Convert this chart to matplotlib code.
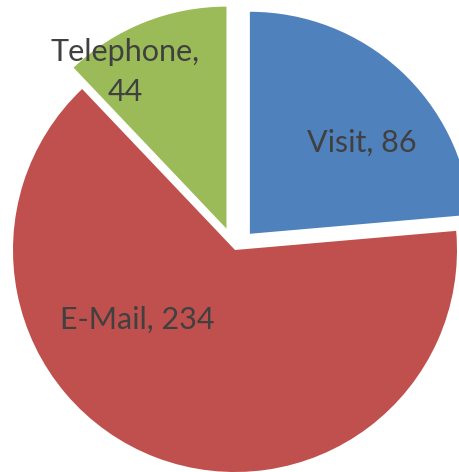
import numpy as np
import matplotlib.pyplot as plt

# Contact channel counts
channels = ['Visit', 'E-Mail', 'Telephone']
counts = [86, 234, 44]
colors = ['#4F81BD', '#C0504D', '#9BBB59']

W, H = 459, 472
R = 222
cx, cy = 235, H - 250

# wedge offsets (pie() takes these in data units, here pixels)
explode = [22, 0, 23]

# label placement: (distance as fraction of radius, angle in degrees) from each wedge apex
label_pos = [(0.65, 39), (0.54, 215.5), (0.84, 123)]
label_text = ['Visit, 86', 'E-Mail, 234', 'Telephone,\n44']

fig = plt.figure(figsize=(W / 100, H / 100), dpi=100)
ax = fig.add_axes([0, 0, 1, 1])

wedges, _ = ax.pie(counts, colors=colors, explode=explode, startangle=90,
                   counterclock=False, radius=R, center=(cx, cy),
                   wedgeprops=dict(linewidth=0))

for w, (frac, ang), txt in zip(wedges, label_pos, label_text):
    ox, oy = w.center
    a = np.deg2rad(ang)
    ax.text(ox + frac * R * np.cos(a), oy + frac * R * np.sin(a), txt,
            ha='center', va='center', fontsize=22, color='#404040',
            family='Lato', linespacing=1.5)

ax.set_xlim(0, W)
ax.set_ylim(0, H)
ax.set_aspect('equal')
ax.axis('off')

fig.savefig('out.png', dpi=100)
